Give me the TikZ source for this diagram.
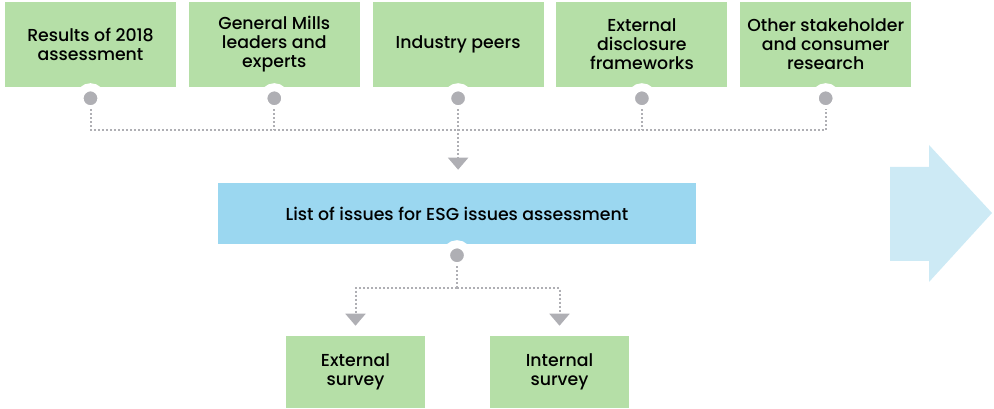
\documentclass[tikz,border=0pt]{standalone}
\usepackage{fontspec}
\setmainfont{Poppins}[BoldFont={Poppins Medium}]
\usetikzlibrary{positioning,arrows.meta}
\definecolor{esgGreen}{RGB}{181,223,167}
\definecolor{esgBlue}{RGB}{155,215,240}
\definecolor{esgPale}{RGB}{205,234,245}
\definecolor{esgGray}{RGB}{175,175,180}

\begin{document}
\begin{tikzpicture}[
    x=0.75pt, y=-0.75pt,
    source/.style={rectangle, fill=esgGreen, minimum width=128.25pt, minimum height=63.75pt, align=center, font=\bfseries\fontsize{13}{14.25}\selectfont},
    listbox/.style={rectangle, fill=esgBlue, minimum width=358.5pt, minimum height=45.75pt, align=center, font=\bfseries\fontsize{13}{14.25}\selectfont},
    survey/.style={rectangle, fill=esgGreen, minimum width=104.25pt, minimum height=54pt, align=center, font=\bfseries\fontsize{13}{14.25}\selectfont},
    pin/.style={circle, fill=esgGray, draw=white, line width=6pt, minimum size=16.5pt, inner sep=0pt, outer sep=0pt},
    dotline/.style={draw=esgGray, line width=1.5pt, dash pattern=on 1.5pt off 1.5pt},
    tip/.style={-{Triangle[width=15pt, length=9pt]}, esgGray}
]
  \useasboundingbox (0,0) rectangle (994,409);

  \node[source] (s1) at (90.5,44.5) {Results of 2018\\assessment};
  \node[source] (s2) [right=9.2pt of s1] {General Mills\\leaders and\\experts};
  \node[source] (s3) [right=9.2pt of s2] {Industry peers};
  \node[source] (s4) [right=9.2pt of s3] {External\\disclosure\\frameworks};
  \node[source] (s5) [right=9.2pt of s4] {Other stakeholder\\and consumer\\research};

  \node[listbox] (list) at (457,213.5) {List of issues for ESG issues assessment};

  \node[survey] (ext) at (355.5,372) {External\\survey};
  \node[survey] (int) at (559.5,372) {Internal\\survey};

  \node[pin] (p1) [below=0pt of s1] {};
  \node[pin] (p2) [below=0pt of s2] {};
  \node[pin] (p3) [below=0pt of s3] {};
  \node[pin] (p4) [below=0pt of s4] {};
  \node[pin] (p5) [below=0pt of s5] {};
  \node[pin] (p6) [below=0pt of list] {};

  \coordinate (jt) at (457,130);
  \coordinate (jb) at (457,288);
  \coordinate (lt) at ([yshift=9.75pt]list.north);
  \coordinate (et) at ([yshift=7.5pt]ext.north);
  \coordinate (it) at ([yshift=7.5pt]int.north);

  \draw[dotline] (p1) |- (jt) -| (p5);
  \draw[dotline] (p2) -- (p2 |- jt);
  \draw[dotline] (p4) -- (p4 |- jt);
  \draw[dotline, tip] (p3) -- (p3 |- lt);

  \draw[dotline] (p6) -- (jb);
  \draw[dotline, tip] (jb) -| (et);
  \draw[dotline, tip] (jb) -| (it);

  % next step
  \fill[esgPale] (890,167) -- (929,167) -- (929,145) -- (992,213) -- (929,282) -- (929,261) -- (890,261) -- cycle;
\end{tikzpicture}
\end{document}
